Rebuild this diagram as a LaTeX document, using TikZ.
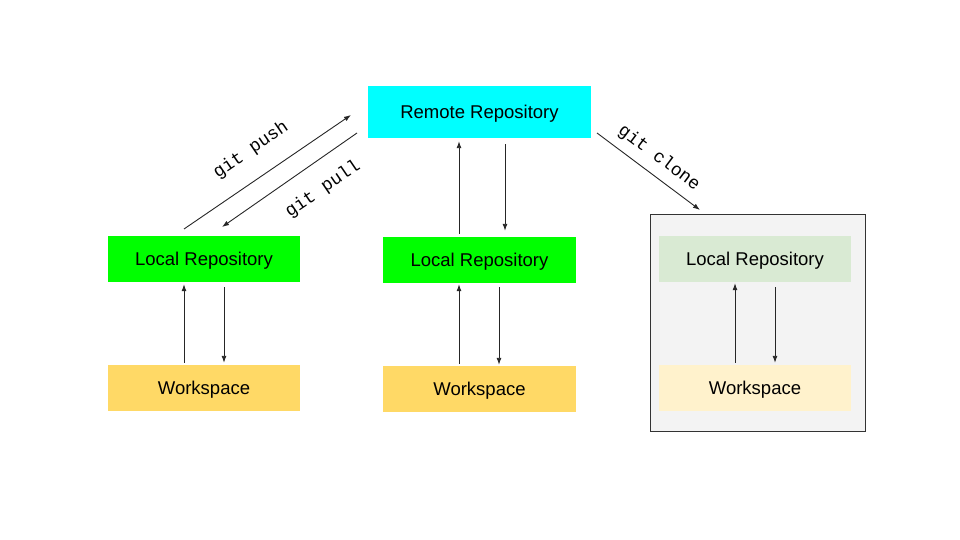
\documentclass[tikz,border=0pt]{standalone}
\usepackage{fontspec}
\setmainfont{Liberation Sans}
\newfontfamily\monofont{Liberation Mono}
\usetikzlibrary{arrows.meta}
\definecolor{cyanbox}{HTML}{00FFFF}
\definecolor{greenbox}{HTML}{00FF00}
\definecolor{wsbox}{HTML}{FFD966}
\definecolor{lightgreen}{HTML}{D9EAD3}
\definecolor{lightyellow}{HTML}{FFF2CC}
\definecolor{panel}{HTML}{F3F3F3}
\tikzset{
  box/.style={inner sep=0pt, minimum width=192pt, minimum height=46pt, text height=17pt, text depth=4pt, font=\fontsize{18.5}{21}\selectfont},
  conn/.style={line width=0.9pt, color=black!85, -{Latex[length=7pt,width=5pt]}},
  lbl/.style={font=\monofont\fontsize{18}{20}\selectfont, inner sep=0pt}
}
\begin{document}
\begin{tikzpicture}[x=1pt,y=-1pt]
\useasboundingbox (0,0) rectangle (960,540);
% panel
\node[draw=black!80, fill=panel, line width=0.8pt, minimum width=215pt, minimum height=217pt, inner sep=0pt] (panel) at (757.5,322.5) {};
% nodes
\node[box, fill=cyanbox, minimum width=223pt, minimum height=52pt] (remote) at (479.5,112) {Remote Repository};
\node[box, fill=greenbox] (l1) at (204,259) {Local Repository};
\node[box, fill=wsbox] (w1) at (204,388) {Workspace};
\node[box, fill=greenbox, minimum width=193pt] (l2) at (479.5,260) {Local Repository};
\node[box, fill=wsbox, minimum width=193pt] (w2) at (479.5,389) {Workspace};
\node[box, fill=lightgreen] (l3) at (755,259) {Local Repository};
\node[box, fill=lightyellow] (w3) at (755,388) {Workspace};
% coordinates for diagonal connectors
\coordinate (pushS) at (184,229);
\coordinate (pushE) at (351,115);
\coordinate (pullS) at (357,133);
\coordinate (pullE) at (222,227);
\coordinate (cloneS) at (597,133);
\coordinate (cloneE) at (700,210);
\draw[conn] (pushS) -- (pushE);
\draw[conn] (pullS) -- (pullE);
\draw[conn] (cloneS) -- (cloneE);
% vertical connectors
\draw[conn] ([yshift=2pt]w1.north -| 184,0) -- ([yshift=-2pt]l1.south -| 184,0);
\draw[conn] ([yshift=-5pt]l1.south -| 224,0) -- ([yshift=2pt]w1.north -| 224,0);
\draw[conn] ([yshift=2pt]w2.north -| 459,0) -- ([yshift=-1pt]l2.south -| 459,0);
\draw[conn] ([yshift=-4pt]l2.south -| 499,0) -- ([yshift=1pt]w2.north -| 499,0);
\draw[conn] ([yshift=3pt]l2.north -| 459,0) -- ([yshift=-3pt]remote.south -| 459,0);
\draw[conn] ([yshift=-6pt]remote.south -| 505,0) -- ([yshift=6pt]l2.north -| 505,0);
\draw[conn] ([yshift=2pt]w3.north -| 735,0) -- ([yshift=-1pt]l3.south -| 735,0);
\draw[conn] ([yshift=-5pt]l3.south -| 775,0) -- ([yshift=2pt]w3.north -| 775,0);
% labels
\node[lbl, rotate=34.3] (tpush) at (251,150) {git push};
\node[lbl, rotate=34.3] (tpull) at (323,189) {git pull};
\node[lbl, rotate=-36.8] (tclone) at (659,158) {git clone};
\end{tikzpicture}
\end{document}
